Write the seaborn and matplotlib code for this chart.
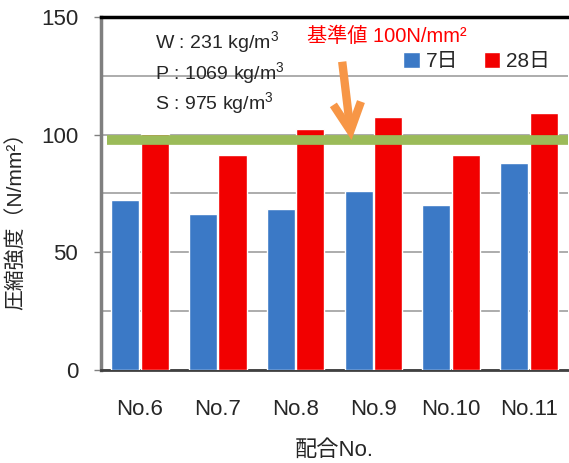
import matplotlib
matplotlib.use("Agg")
import matplotlib.pyplot as plt
import seaborn as sns
import pandas as pd

# Compressive strength per mix (N/mm2)
mixes = ["No.6", "No.7", "No.8", "No.9", "No.10", "No.11"]
ages = ["7日", "28日"]
strength_7d = [72.2, 66.2, 68.3, 76.1, 70.3, 88.1]
strength_28d = [100.1, 91.3, 102.4, 107.4, 91.2, 109.1]
reference_value = 97.7
mix_notes = ["W : 231 kg/m$^{3}$", "P : 1069 kg/m$^{3}$", "S : 975 kg/m$^{3}$"]
reference_label = "基準値 100N/mm²"
y_ticks = [0, 50, 100, 150]

df = pd.DataFrame({
    "mix": mixes * 2,
    "age": [ages[0]] * len(mixes) + [ages[1]] * len(mixes),
    "strength": strength_7d + strength_28d,
})

sns.set_style("white")
plt.rcParams["font.family"] = ["Liberation Sans", "Noto Sans CJK JP", "DejaVu Sans"]
plt.rcParams["mathtext.fontset"] = "custom"
plt.rcParams["mathtext.rm"] = "Liberation Sans"
plt.rcParams["mathtext.it"] = "Liberation Sans:italic"
plt.rcParams["mathtext.bf"] = "Liberation Sans:bold"

fig = plt.figure(figsize=(5.69, 4.63), dpi=100)
ax = fig.add_axes([0.1775, 0.2009, 0.8205, 0.7624])

palette = {ages[0]: "#3b79c6", ages[1]: "#f20000"}
sns.barplot(data=df, x="mix", y="strength", hue="age", order=mixes,
            hue_order=ages, palette=palette, width=0.76, gap=0.05,
            saturation=1, ax=ax, zorder=3)

ax.set_ylim(0, 150)
ax.set_xlim(-0.5, len(mixes) - 0.5)
ax.set_yticks(y_ticks)
ax.set_yticks([25, 75, 125], minor=True)
ax.grid(axis="y", which="both", color="#a6a6a6", lw=1.3, zorder=0)
ax.set_axisbelow(True)
ax.tick_params(axis="y", which="major", length=5, width=1, color="#808080",
               labelsize=16, pad=11.5, direction="out", left=True)
ax.tick_params(axis="y", which="minor", length=0)
ax.tick_params(axis="x", length=0, labelsize=16, pad=21)

ax.spines["left"].set_color("#7f7f7f")
ax.spines["left"].set_linewidth(2.5)
ax.spines["bottom"].set_color("#404040")
ax.spines["bottom"].set_linewidth(2)
ax.spines["top"].set_color("#000000")
ax.spines["top"].set_linewidth(2.5)
ax.spines["right"].set_visible(False)

ax.set_ylabel("圧縮強度（N/mm²）", fontsize=15, labelpad=14)
ax.yaxis.set_label_coords(-0.16, 0.436)
ax.set_xlabel("配合No.", fontsize=16, labelpad=14)

# Reference strength line
ax.axhline(reference_value, xmin=0.013, xmax=1.0, color="#9bbb59", lw=7,
           zorder=4, solid_capstyle="butt")

# Mix proportions
for i, note in enumerate(mix_notes):
    ax.text(0.116, 0.929 - 0.087 * i, note, transform=ax.transAxes,
            fontsize=14, va="center", ha="left", zorder=5)

ax.text(0.441, 0.945, reference_label, transform=ax.transAxes,
        fontsize=14.5, color="#ff0000", va="center", ha="left", zorder=5)

ax.annotate("", xy=(2.72, reference_value), xytext=(2.60, 131),
            arrowprops=dict(arrowstyle="->,head_length=2.0,head_width=1.0",
                            color="#f79646", lw=6, shrinkA=0, shrinkB=0,
                            joinstyle="miter", capstyle="butt"),
            zorder=6)

handles, labels = ax.get_legend_handles_labels()
ax.legend(handles, labels, ncol=2, loc="center",
          bbox_to_anchor=(0.805, 0.873), frameon=False, fontsize=15,
          handlelength=0.8, handleheight=0.8, handletextpad=0.3,
          columnspacing=1.2, borderpad=0)

fig.savefig("out.png", dpi=100)
